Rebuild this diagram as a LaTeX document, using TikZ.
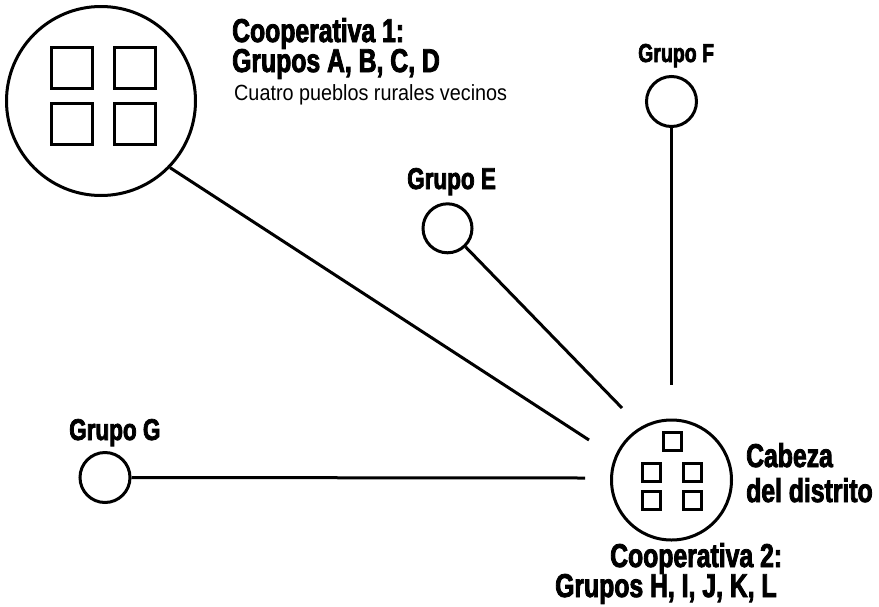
\documentclass[tikz,border=0pt]{standalone}
\usepackage{fontspec}
\setmainfont{Liberation Sans}
\newfontfamily\condb{Liberation Sans Bold}[FakeStretch=0.75,FakeBold=2.5]
\newfontfamily\condr{Liberation Sans}[FakeStretch=0.9]
\begin{document}
\begin{tikzpicture}[x=1pt,y=-1pt,
  ring/.style={draw,circle,inner sep=0pt,line width=3pt},
  box/.style={draw,rectangle,inner sep=0pt,line width=3pt},
  link/.style={line width=3pt},
  big/.style={font=\condb\fontsize{33}{30}\selectfont,inner sep=0pt,anchor=base west},
  lbl/.style={font=\condb\fontsize{30}{30}\selectfont,inner sep=0pt,anchor=base west},
  small/.style={font=\condr\fontsize{22}{24}\selectfont,inner sep=0pt,anchor=base west}]
\useasboundingbox (0,0) rectangle (879,606);
% Cooperativa 1
\node[ring,minimum size=189pt] (c1) at (101,101) {};
\node[box,minimum size=41pt] (sa) at (72,68) {};
\node[box,minimum size=41pt] (sb) at (135,68) {};
\node[box,minimum size=41pt] (sc) at (72,124) {};
\node[box,minimum size=41pt] (sd) at (135,124) {};
% Cooperativa 2
\node[ring,minimum size=120pt] (c2) at (671.5,480) {};
\node[box,minimum size=18pt] (sh) at (672,441) {};
\node[box,minimum size=18pt] (si) at (651,472) {};
\node[box,minimum size=18pt] (sj) at (692,472) {};
\node[box,minimum size=18pt] (sk) at (651,500) {};
\node[box,minimum size=18pt] (sl) at (692,500) {};
% small groups
\node[ring,minimum size=50pt] (g) at (105,477.5) {};
\node[ring,minimum size=49pt] (e) at (447.5,228.3) {};
\node[ring,minimum size=50pt] (f) at (671.5,101.5) {};
% connector ends
\coordinate (e1) at (589,440);
\coordinate (ee) at (622,408);
\coordinate (ef) at (671.5,385);
\coordinate (eg) at (585,478);
\draw[link] (c1.-44) -- (e1);
\draw[link] (e) -- (ee);
\draw[link] (f) -- (ef);
\draw[link] (g) -- (eg);
% labels
\node[big] (t1) at (232,42) {Cooperativa 1:};
\node[big] (t2) at (232,72) {Grupos A, B, C, D};
\node[small] (t3) at (234,100) {Cuatro pueblos rurales vecinos};
\node[lbl] (te) at (407,189) {Grupo E};
\node[lbl,font=\condb\fontsize{26}{30}\selectfont] (tf) at (638,62) {Grupo F};
\node[lbl] (tg) at (69,440) {Grupo G};
\node[big] (tc1) at (746,467) {Cabeza};
\node[big] (tc2) at (746,502) {del distrito};
\node[big] (t4) at (610,567) {Cooperativa 2:};
\node[big] (t5) at (555,597) {Grupos H, I, J, K, L};
\end{tikzpicture}
\end{document}
